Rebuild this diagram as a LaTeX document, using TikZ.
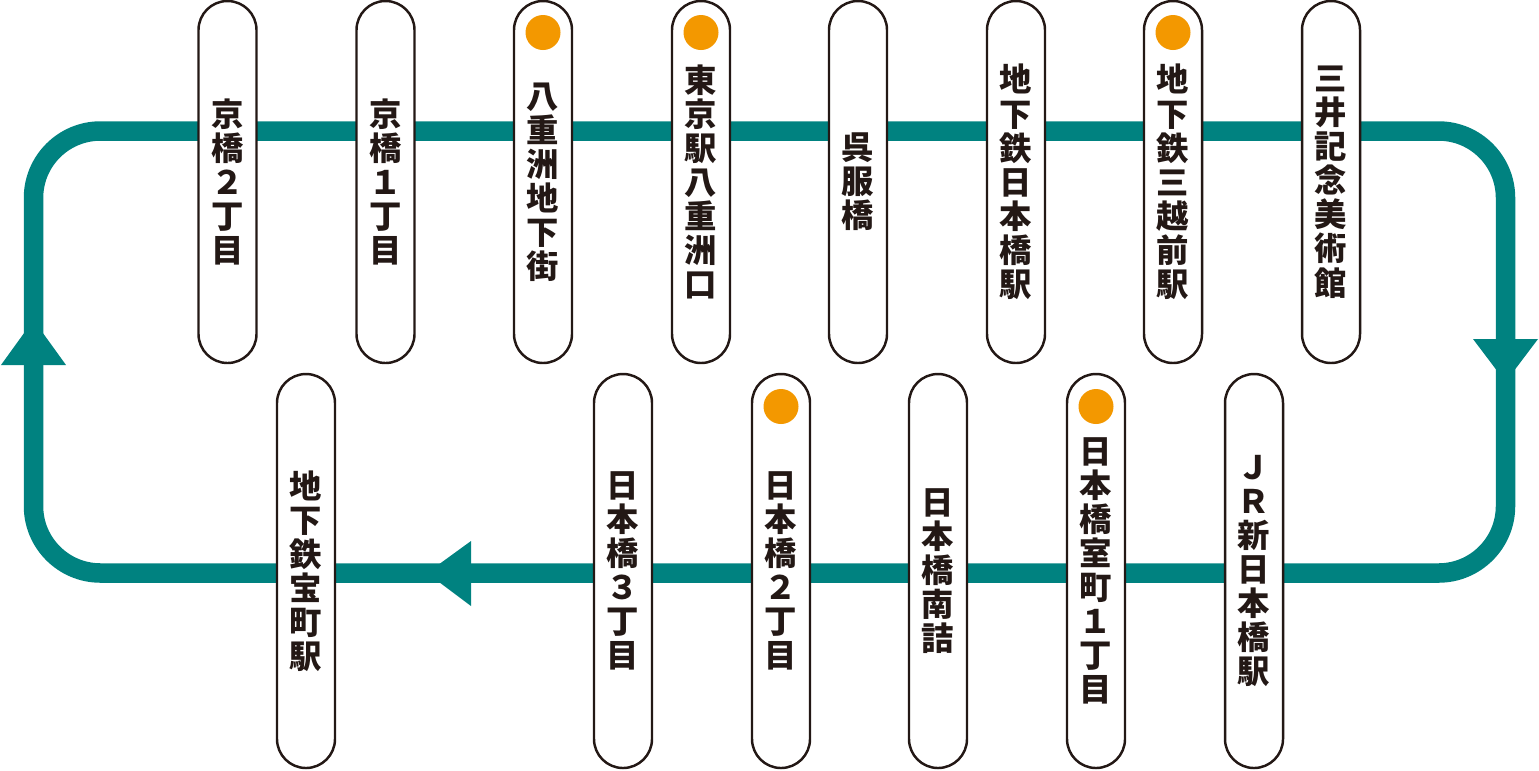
\documentclass[tikz,border=0pt]{standalone}
\usepackage{fontspec}
\newfontfamily\jpfont{Noto Sans CJK JP}
\definecolor{loopteal}{RGB}{0,130,128}
\definecolor{stoporange}{RGB}{243,152,0}
\definecolor{inkblack}{RGB}{35,24,21}
\usetikzlibrary{positioning}

\tikzset{
  stopbox/.style={draw=inkblack,fill=white,line width=0.7pt,rounded corners=2.9mm,
    minimum width=5.8mm,inner sep=0pt,outer sep=0pt,align=center,text=inkblack,
    font=\jpfont\bfseries\fontsize{9.2}{9.7}\selectfont},
  toprow/.style={stopbox,minimum height=36.2mm},
  lowrow/.style={stopbox,minimum height=39.4mm},
  hubdot/.style={circle,fill=stoporange,minimum size=3.5mm,inner sep=0pt,outer sep=0pt},
  loopline/.style={draw=loopteal,line width=0.195cm,rounded corners=0.67cm}
}

\begin{document}
\begin{tikzpicture}
  \useasboundingbox (0,0) rectangle (15.39,-7.70);
  \draw[loopline] (0.335,-1.31) rectangle (15.055,-5.73);
  \fill[loopteal] (0.335,-3.20) -- (0.01,-3.65) -- (0.66,-3.65) -- cycle;
  \fill[loopteal] (15.055,-3.82) -- (14.73,-3.39) -- (15.38,-3.39) -- cycle;
  \fill[loopteal] (4.27,-5.73) -- (4.71,-5.41) -- (4.71,-6.06) -- cycle;

  \node[toprow] (t1) at (2.275,-1.82) {京\\橋\\２\\丁\\目};
  \node[toprow] (t2) at (3.855,-1.82) {京\\橋\\１\\丁\\目};
  \node[toprow] (t3) at (5.43,-1.82) {八\\重\\洲\\地\\下\\街};
  \node[toprow] (t4) at (7.01,-1.82) {東\\京\\駅\\八\\重\\洲\\口};
  \node[toprow] (t5) at (8.58,-1.82) {呉\\服\\橋};
  \node[toprow] (t6) at (10.16,-1.82) {地\\下\\鉄\\日\\本\\橋\\駅};
  \node[toprow] (t7) at (11.73,-1.82) {地\\下\\鉄\\三\\越\\前\\駅};
  \node[toprow] (t8) at (13.31,-1.82) {三\\井\\記\\念\\美\\術\\館};

  \node[lowrow] (b1) at (3.06,-5.71) {地\\下\\鉄\\宝\\町\\駅};
  \node[lowrow] (b2) at (6.23,-5.71) {日\\本\\橋\\３\\丁\\目};
  \node[lowrow] (b3) at (7.81,-5.71) {日\\本\\橋\\２\\丁\\目};
  \node[lowrow] (b4) at (9.38,-5.71) {日\\本\\橋\\南\\詰};
  \node[lowrow] (b5) at (10.96,-5.71) {日\\本\\橋\\室\\町\\１\\丁\\目};
  \node[lowrow] (b6) at (12.54,-5.71) {Ｊ\\Ｒ\\新\\日\\本\\橋\\駅};

  \node[hubdot,below=0.14 of t3.north] (d3) {};
  \node[hubdot,below=0.14 of t4.north] (d4) {};
  \node[hubdot,below=0.14 of t7.north] (d7) {};
  \node[hubdot,below=0.15 of b3.north] (e3) {};
  \node[hubdot,below=0.15 of b5.north] (e5) {};
\end{tikzpicture}
\end{document}
